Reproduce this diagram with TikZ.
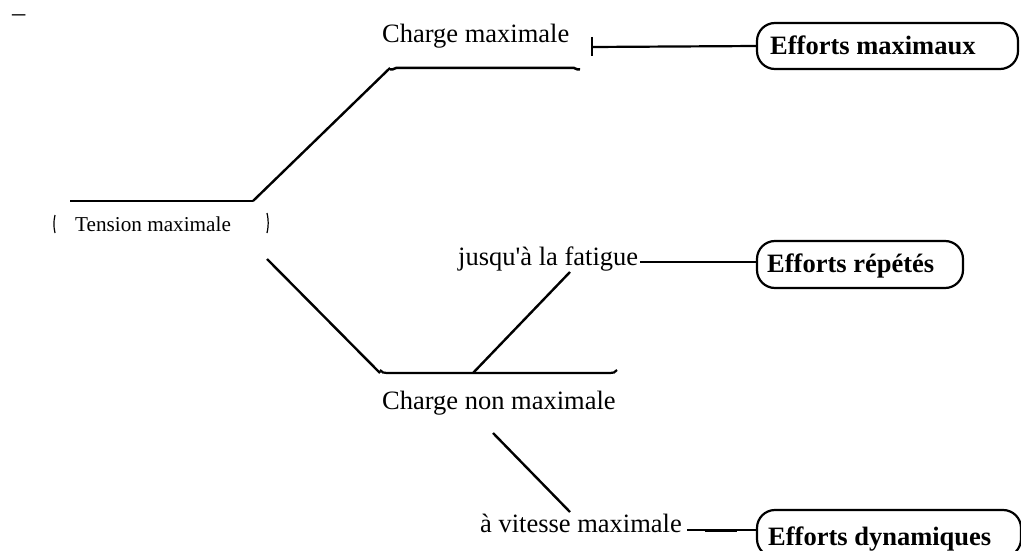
\documentclass[tikz,border=0pt]{standalone}
\usepackage{fontspec}
\setmainfont{Liberation Serif}[Ligatures=TeXOff]
\begin{document}
\begin{tikzpicture}[x=1pt,y=-1pt,
  lbl/.style={anchor=base west,inner sep=0pt,font=\fontsize{26.5}{30}\selectfont},
  small/.style={anchor=base west,inner sep=0pt,font=\fontsize{21.2}{24}\selectfont},
  effbox/.style={draw,line width=2.2pt,rounded corners=18pt},
  efftext/.style={anchor=base west,inner sep=0pt,font=\fontsize{26.5}{30}\selectfont\bfseries},
  conn/.style={line width=2.2pt},
  diag/.style={line width=2.4pt},
  thin/.style={line width=1.2pt}]
\useasboundingbox (0,0) rectangle (1021,551);
\clip (0,0) rectangle (1021,551);
% stray dash
\node[lbl] (dash) at (12,22) {–};
% text labels
\node[lbl] (cmax) at (382,43) {Charge maximale};
\node[small] (tmax) at (75,231) {Tension maximale};
\node[lbl] (fat) at (458,265) {jusqu'à la fatigue};
\node[lbl] (cnon) at (382,409) {Charge non maximale};
\node[lbl] (vit) at (480,532) {à vitesse maximale};
% effort boxes
\draw[effbox] (757,23) rectangle (1018,69);
\node[efftext] (emax) at (770,55) {Efforts maximaux};
\draw[effbox] (757,241) rectangle (963,288);
\node[efftext] (erep) at (767,272) {Efforts répétés};
\draw[effbox] (757,510) rectangle (1021,557);
\node[efftext] (edyn) at (768,545) {Efforts dynamiques};
% coordinates
\coordinate (cmax-bl) at (390,68);
\coordinate (cmax-br) at (580,68);
\coordinate (cmax-tick) at (592,47);
\coordinate (emax-w) at (757,46);
\coordinate (tmax-tl) at (70,201);
\coordinate (tmax-tr) at (253,201);
\coordinate (tmax-br) at (267,259);
\coordinate (cnon-tl) at (380,373);
\coordinate (cnon-tm) at (473,373);
\coordinate (cnon-tr) at (617,373);
\coordinate (cnon-b) at (493,433);
\coordinate (fat-b) at (570,272);
\coordinate (fat-e) at (640,262);
\coordinate (erep-w) at (757,262);
\coordinate (vit-t) at (570,512);
\coordinate (vit-e) at (687,530);
\coordinate (edyn-w) at (757,530);
% partial outlines
\draw[line width=2.5pt] ([yshift=-1.5pt]cmax-bl) to[out=-40,in=180] ([xshift=6pt]cmax-bl) -- ([xshift=-6pt]cmax-br) to[out=0,in=-140] ([yshift=-1.5pt]cmax-br);
\draw[thin] (tmax-tl) -- (tmax-tr);
\draw[thin] (55,215) to[bend right=12] (55,233);
\draw[thin] (267,213) to[bend left=12] (267,233);
\draw[conn] ([yshift=3pt]cnon-tl) to[out=-60,in=180] ([xshift=7pt]cnon-tl) -- ([xshift=-7pt]cnon-tr) to[out=0,in=-120] ([yshift=3pt]cnon-tr);
% connectors
\draw[thin] (592,37) -- (592,56);
\draw[conn] (cmax-tick) -- (emax-w);
\draw[diag] (cmax-bl) -- (tmax-tr);
\draw[diag] (tmax-br) -- (cnon-tl);
\draw[diag] (cnon-tm) -- (fat-b);
\draw[conn] (fat-e) -- (erep-w);
\draw[diag] (cnon-b) -- (vit-t);
\draw[conn] (vit-e) -- (edyn-w);
\draw[line width=3pt] (705,530) -- (737,530);
\end{tikzpicture}
\end{document}
